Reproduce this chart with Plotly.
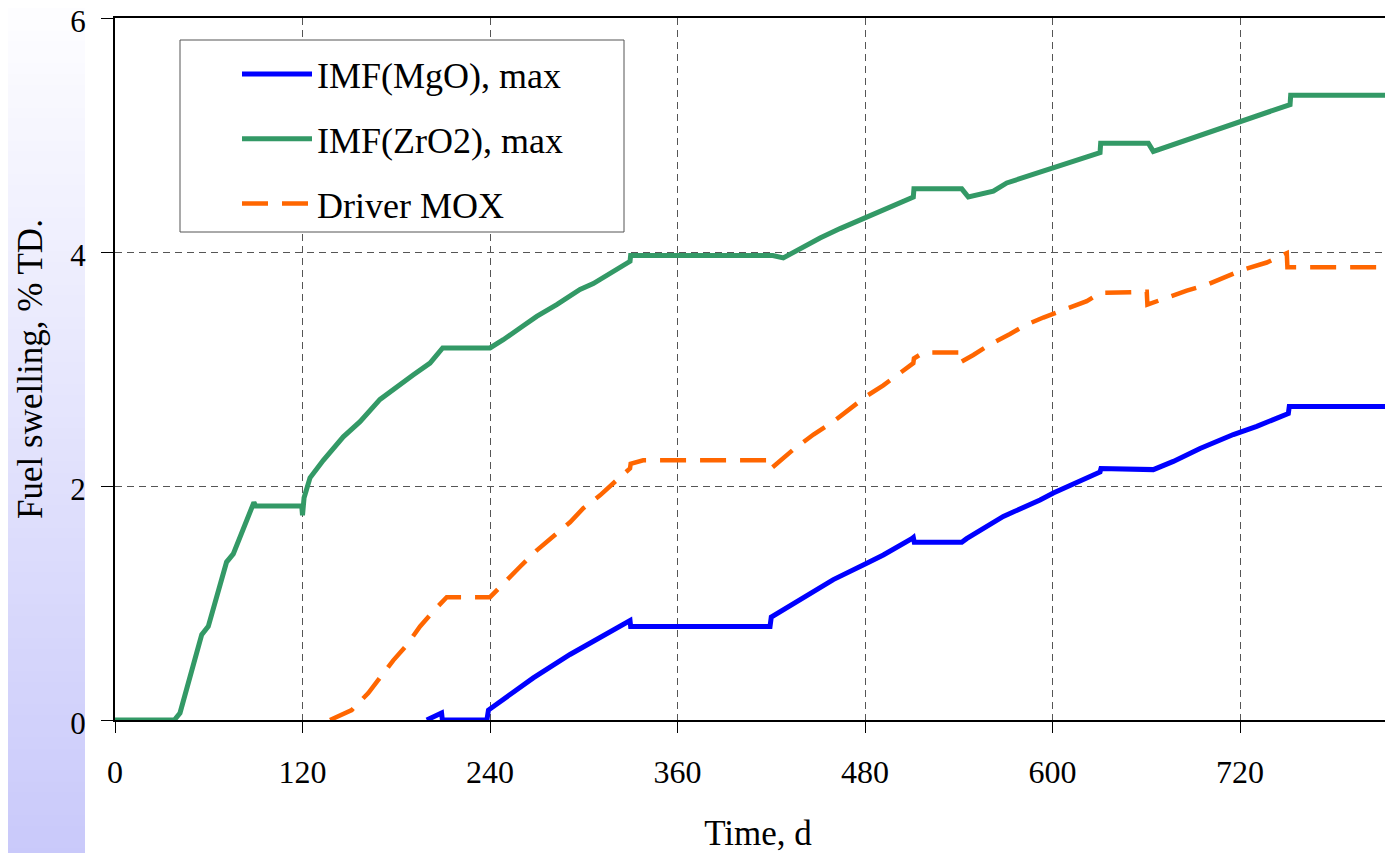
import plotly.graph_objects as go

# ---- data ----
mgo_day = [199.5, 209, 209.5, 238, 239, 250.7, 267.7, 291.2, 304, 318.9,
           329.6, 330, 419.2, 420, 438.4, 459.7, 481.1, 491.7, 509.9, 510.9,
           511.5, 541.9, 545, 557.8, 568.5, 592, 600.5, 630.4, 631, 664.5,
           677.3, 694.4, 715.7, 730.7, 750.9, 751.5, 823]
mgo_val = [0, 0.06, 0, 0, 0.085, 0.2, 0.36, 0.56, 0.66, 0.77,
           0.85, 0.80, 0.80, 0.88, 1.03, 1.20, 1.34, 1.41, 1.55, 1.56,
           1.52, 1.52, 1.55, 1.66, 1.74, 1.88, 1.94, 2.12, 2.15, 2.14,
           2.21, 2.32, 2.44, 2.51, 2.62, 2.68, 2.68]

zro2_day = [0, 38, 41.6, 55.5, 59.7, 71.4, 75.7, 88.9, 90, 119.5,
            120, 121, 124.8, 133.3, 146.1, 156.8, 169.6, 180.3, 191, 201.6,
            209, 209.7, 240, 248.5, 261.3, 269.9, 282.7, 297.6, 306.1, 329.6,
            330, 421, 427.7, 438.4, 451.2, 464, 481.1, 498.1, 510.9, 511.3,
            541.9, 546.1, 562.1, 570.7, 592, 604.8, 630.4, 630.8, 661.3, 664.5,
            694.4, 722.1, 752, 752.4, 823]
zro2_val = [0, 0, 0.06, 0.73, 0.80, 1.35, 1.42, 1.86, 1.83, 1.83,
            1.75, 1.90, 2.07, 2.22, 2.42, 2.55, 2.74, 2.85, 2.95, 3.05,
            3.16, 3.18, 3.18, 3.25, 3.37, 3.45, 3.55, 3.68, 3.73, 3.92,
            3.97, 3.97, 3.95, 4.03, 4.12, 4.20, 4.30, 4.40, 4.47, 4.54,
            4.54, 4.47, 4.52, 4.59, 4.68, 4.74, 4.85, 4.93, 4.93, 4.86,
            5.0, 5.13, 5.26, 5.34, 5.34]

mox_day = [137.6, 151.5, 162.1, 169.6, 178.1, 186.7, 195.2, 203.7, 212.3, 240,
           250.7, 259.2, 269.9, 280.5, 291.2, 299.7, 310.4, 321.1, 329.6, 330,
           338, 419.2, 420, 434, 447, 459.7, 469.3, 481.1, 491.7, 500.3,
           510.9, 511.3, 517.3, 539.7, 540, 549.3, 560, 572.8, 583.5, 594.1,
           608, 621.9, 630.4, 660.3, 660.7, 673.1, 685.9, 698.7, 711.5, 722.1,
           737.1, 749.9, 750.3, 823]
mox_val = [0, 0.085, 0.23, 0.36, 0.51, 0.64, 0.80, 0.93, 1.05, 1.05,
           1.20, 1.31, 1.45, 1.57, 1.69, 1.81, 1.92, 2.05, 2.15, 2.19,
           2.22, 2.22, 2.15, 2.31, 2.44, 2.55, 2.65, 2.77, 2.86, 2.95,
           3.05, 3.09, 3.14, 3.14, 3.05, 3.12, 3.21, 3.30, 3.38, 3.44,
           3.51, 3.58, 3.65, 3.66, 3.55, 3.61, 3.67, 3.72, 3.79, 3.85,
           3.91, 3.99, 3.87, 3.87]

x_ticks = [0, 120, 240, 360, 480, 600, 720]
y_ticks = [0, 2, 4, 6]

FONT = "Liberation Serif"
OFF = 8  # page body margin offset
W, H = 1393, 853
ML, MR, MT, MB = 107, 0, 10, 141
PW, PH = W - ML - MR, H - MT - MB


def px(vx):  # viewport x -> paper x
    return (vx - OFF - ML) / PW


def py(vy):  # viewport y -> paper y
    return (MT + PH - (vy - OFF)) / PH


fig = go.Figure()
fig.add_trace(go.Scatter(x=mgo_day, y=mgo_val, mode="lines", name="IMF(MgO), max",
                         line=dict(color="#0000FF", width=5), legendgroup="a"))
fig.add_trace(go.Scatter(x=zro2_day, y=zro2_val, mode="lines", name="IMF(ZrO2), max",
                         line=dict(color="#339966", width=5), legendgroup="b"))
fig.add_trace(go.Scatter(x=mox_day, y=mox_val, mode="lines", name="Driver MOX",
                         line=dict(color="#FF6600", width=4.5, dash="26px,14px"), legendgroup="c"))

shapes = []
# left gradient band (decorative background); each band runs to the bottom to avoid seams
n = 80
y_top = py(0) + 0.02
y_bot = py(870)
for i in range(n):
    t = (i + 0.5) / n
    r = int(round(255 + (200 - 255) * t))
    b = int(round(255 + (250 - 255) * t))
    shapes.append(dict(type="rect", xref="paper", yref="paper",
                       x0=px(-20), x1=px(85),
                       y0=y_bot,
                       y1=y_top + (y_bot - y_top) * i / n,
                       fillcolor=f"rgb({r},{r},{b})", line=dict(width=0), layer="below"))
# legend frame
shapes.append(dict(type="rect", xref="paper", yref="paper",
                   x0=px(180), x1=px(624), y0=py(232), y1=py(40),
                   fillcolor="white", line=dict(color="#555555", width=1), layer="above"))

fig.update_layout(
    width=W, height=H,
    margin=dict(l=ML, r=MR, t=MT, b=MB, pad=0, autoexpand=False),
    paper_bgcolor="white", plot_bgcolor="white",
    font=dict(family=FONT, size=32, color="black"),
    shapes=shapes,
    showlegend=True,
    legend=dict(x=px(237), y=py(44), xanchor="left", yanchor="top",
                bgcolor="rgba(0,0,0,0)", borderwidth=0,
                font=dict(family=FONT, size=36, color="black"),
                tracegroupgap=15, itemwidth=70),
    xaxis=dict(range=[0, 823], tickvals=x_ticks, ticktext=[str(v) for v in x_ticks],
               showline=True, linecolor="black", linewidth=2, mirror=True,
               ticks="outside", ticklen=11, tickcolor="black", tickwidth=1,
               showgrid=True, gridcolor="#555555", gridwidth=1, griddash="7px,5px",
               zeroline=False, ticklabelstandoff=12, automargin=False,
               ticklabeloverflow="allow",
               tickfont=dict(family=FONT, size=32, color="black"),
               title=dict(text="Time, d", font=dict(family=FONT, size=35, color="black"), standoff=31)),
    yaxis=dict(range=[0, 6], tickvals=y_ticks, ticktext=[str(v) for v in y_ticks],
               showline=True, linecolor="black", linewidth=2,
               ticks="outside", ticklen=12, tickcolor="black", tickwidth=1,
               showgrid=True, gridcolor="#555555", gridwidth=1, griddash="7px,5px",
               zeroline=False, ticklabelstandoff=9, automargin=False,
               ticklabeloverflow="allow", ticklabelshift=3,
               tickfont=dict(family=FONT, size=31, color="black"),
               title=dict(text="Fuel swelling, % TD.", font=dict(family=FONT, size=35, color="black"), standoff=17)),
)

fig.write_html("out.html")
